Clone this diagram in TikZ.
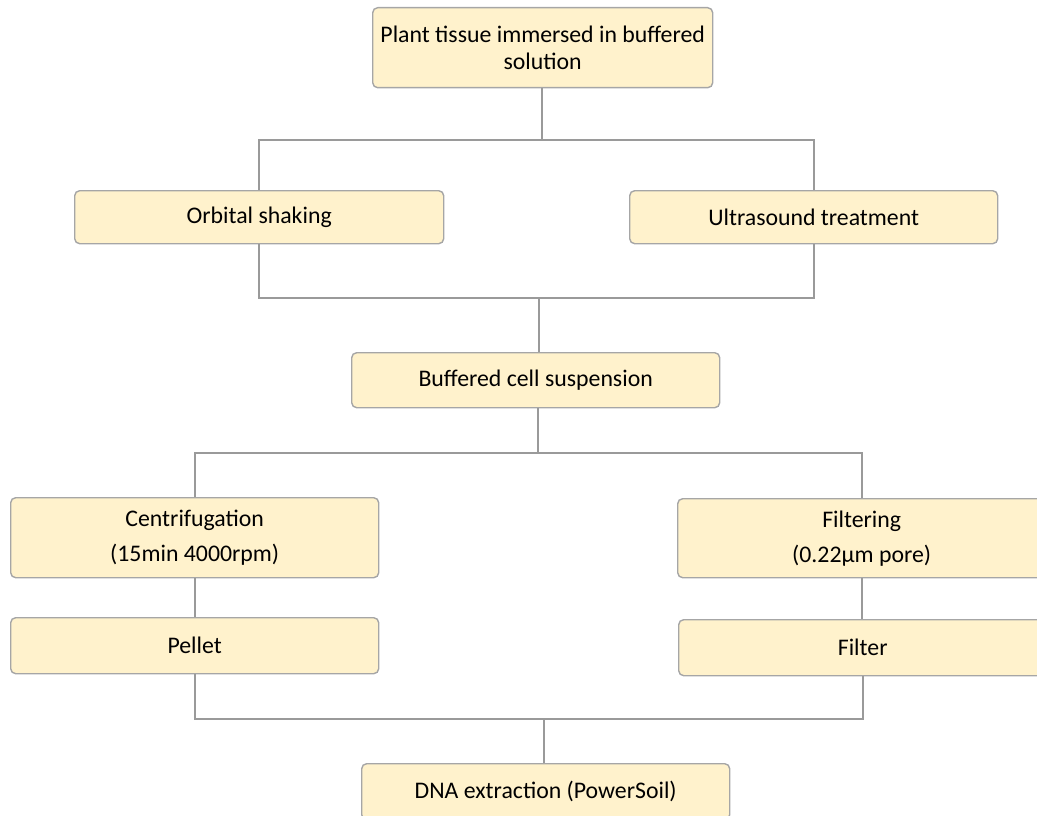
\documentclass[tikz,border=0pt]{standalone}
\usepackage{fontspec}
\setmainfont{Carlito}
\definecolor{boxfill}{HTML}{FFF2CC}
\definecolor{boxline}{HTML}{A6A6A6}
\definecolor{conn}{HTML}{9A9A9A}
\begin{document}
\begin{tikzpicture}[x=1pt,y=-1pt,
  stepbox/.style={draw=boxline,fill=boxfill,line width=1.4pt,rounded corners=5pt,
    anchor=north west,inner sep=0pt,align=center,font=\fontsize{23.8}{27}\selectfont},
  link/.style={draw=conn,line width=1.6pt}]
\useasboundingbox (0,0) rectangle (1037,816);
\clip (0,0) rectangle (1037,816);
\node[stepbox,minimum width=340pt,minimum height=80pt] (top) at (372,7) {Plant tissue immersed in buffered\\solution};
\node[stepbox,minimum width=369pt,minimum height=53pt] (orb) at (74,190) {Orbital shaking};
\node[stepbox,minimum width=368pt,minimum height=53pt] (ult) at (629,190) {Ultrasound treatment};
\node[stepbox,minimum width=368pt,minimum height=55pt] (buf) at (351,352) {Buffered cell suspension};
\node[stepbox,minimum width=368pt,minimum height=80pt,font=\fontsize{23.8}{35}\selectfont] (cen) at (10,497) {Centrifugation\\(15min 4000rpm)};
\node[stepbox,minimum width=368pt,minimum height=79pt,font=\fontsize{23.8}{35}\selectfont] (fil) at (677,498) {Filtering\\(0.22µm pore)};
\node[stepbox,minimum width=368pt,minimum height=56pt] (pel) at (10,617) {Pellet};
\node[stepbox,minimum width=368pt,minimum height=56pt] (flt) at (678,619) {Filter};
\node[stepbox,minimum width=368pt,minimum height=56pt] (dna) at (361,763) {DNA extraction (PowerSoil)};
% connectors
\coordinate (j1) at (542,140);
\draw[link] (top.south -| j1) -- (j1);
\draw[link] (orb.north) |- (j1) -| (ult.north);
\coordinate (j2) at (539,298);
\draw[link] (orb.south) |- (j2) -| (ult.south);
\draw[link] (j2) -- (j2 |- buf.north);
\coordinate (j3) at (538,453);
\draw[link] (j3 |- buf.south) -- (j3);
\draw[link] (cen.north) |- (j3) -| (fil.north);
\draw[link] (cen.south) -- (pel.north);
\draw[link] (fil.south) -- (fil.south |- flt.north);
\coordinate (j4) at (544,719);
\draw[link] (pel.south) |- (j4) -| (flt.south);
\draw[link] (j4) -- (j4 |- dna.north);
\end{tikzpicture}
\end{document}
